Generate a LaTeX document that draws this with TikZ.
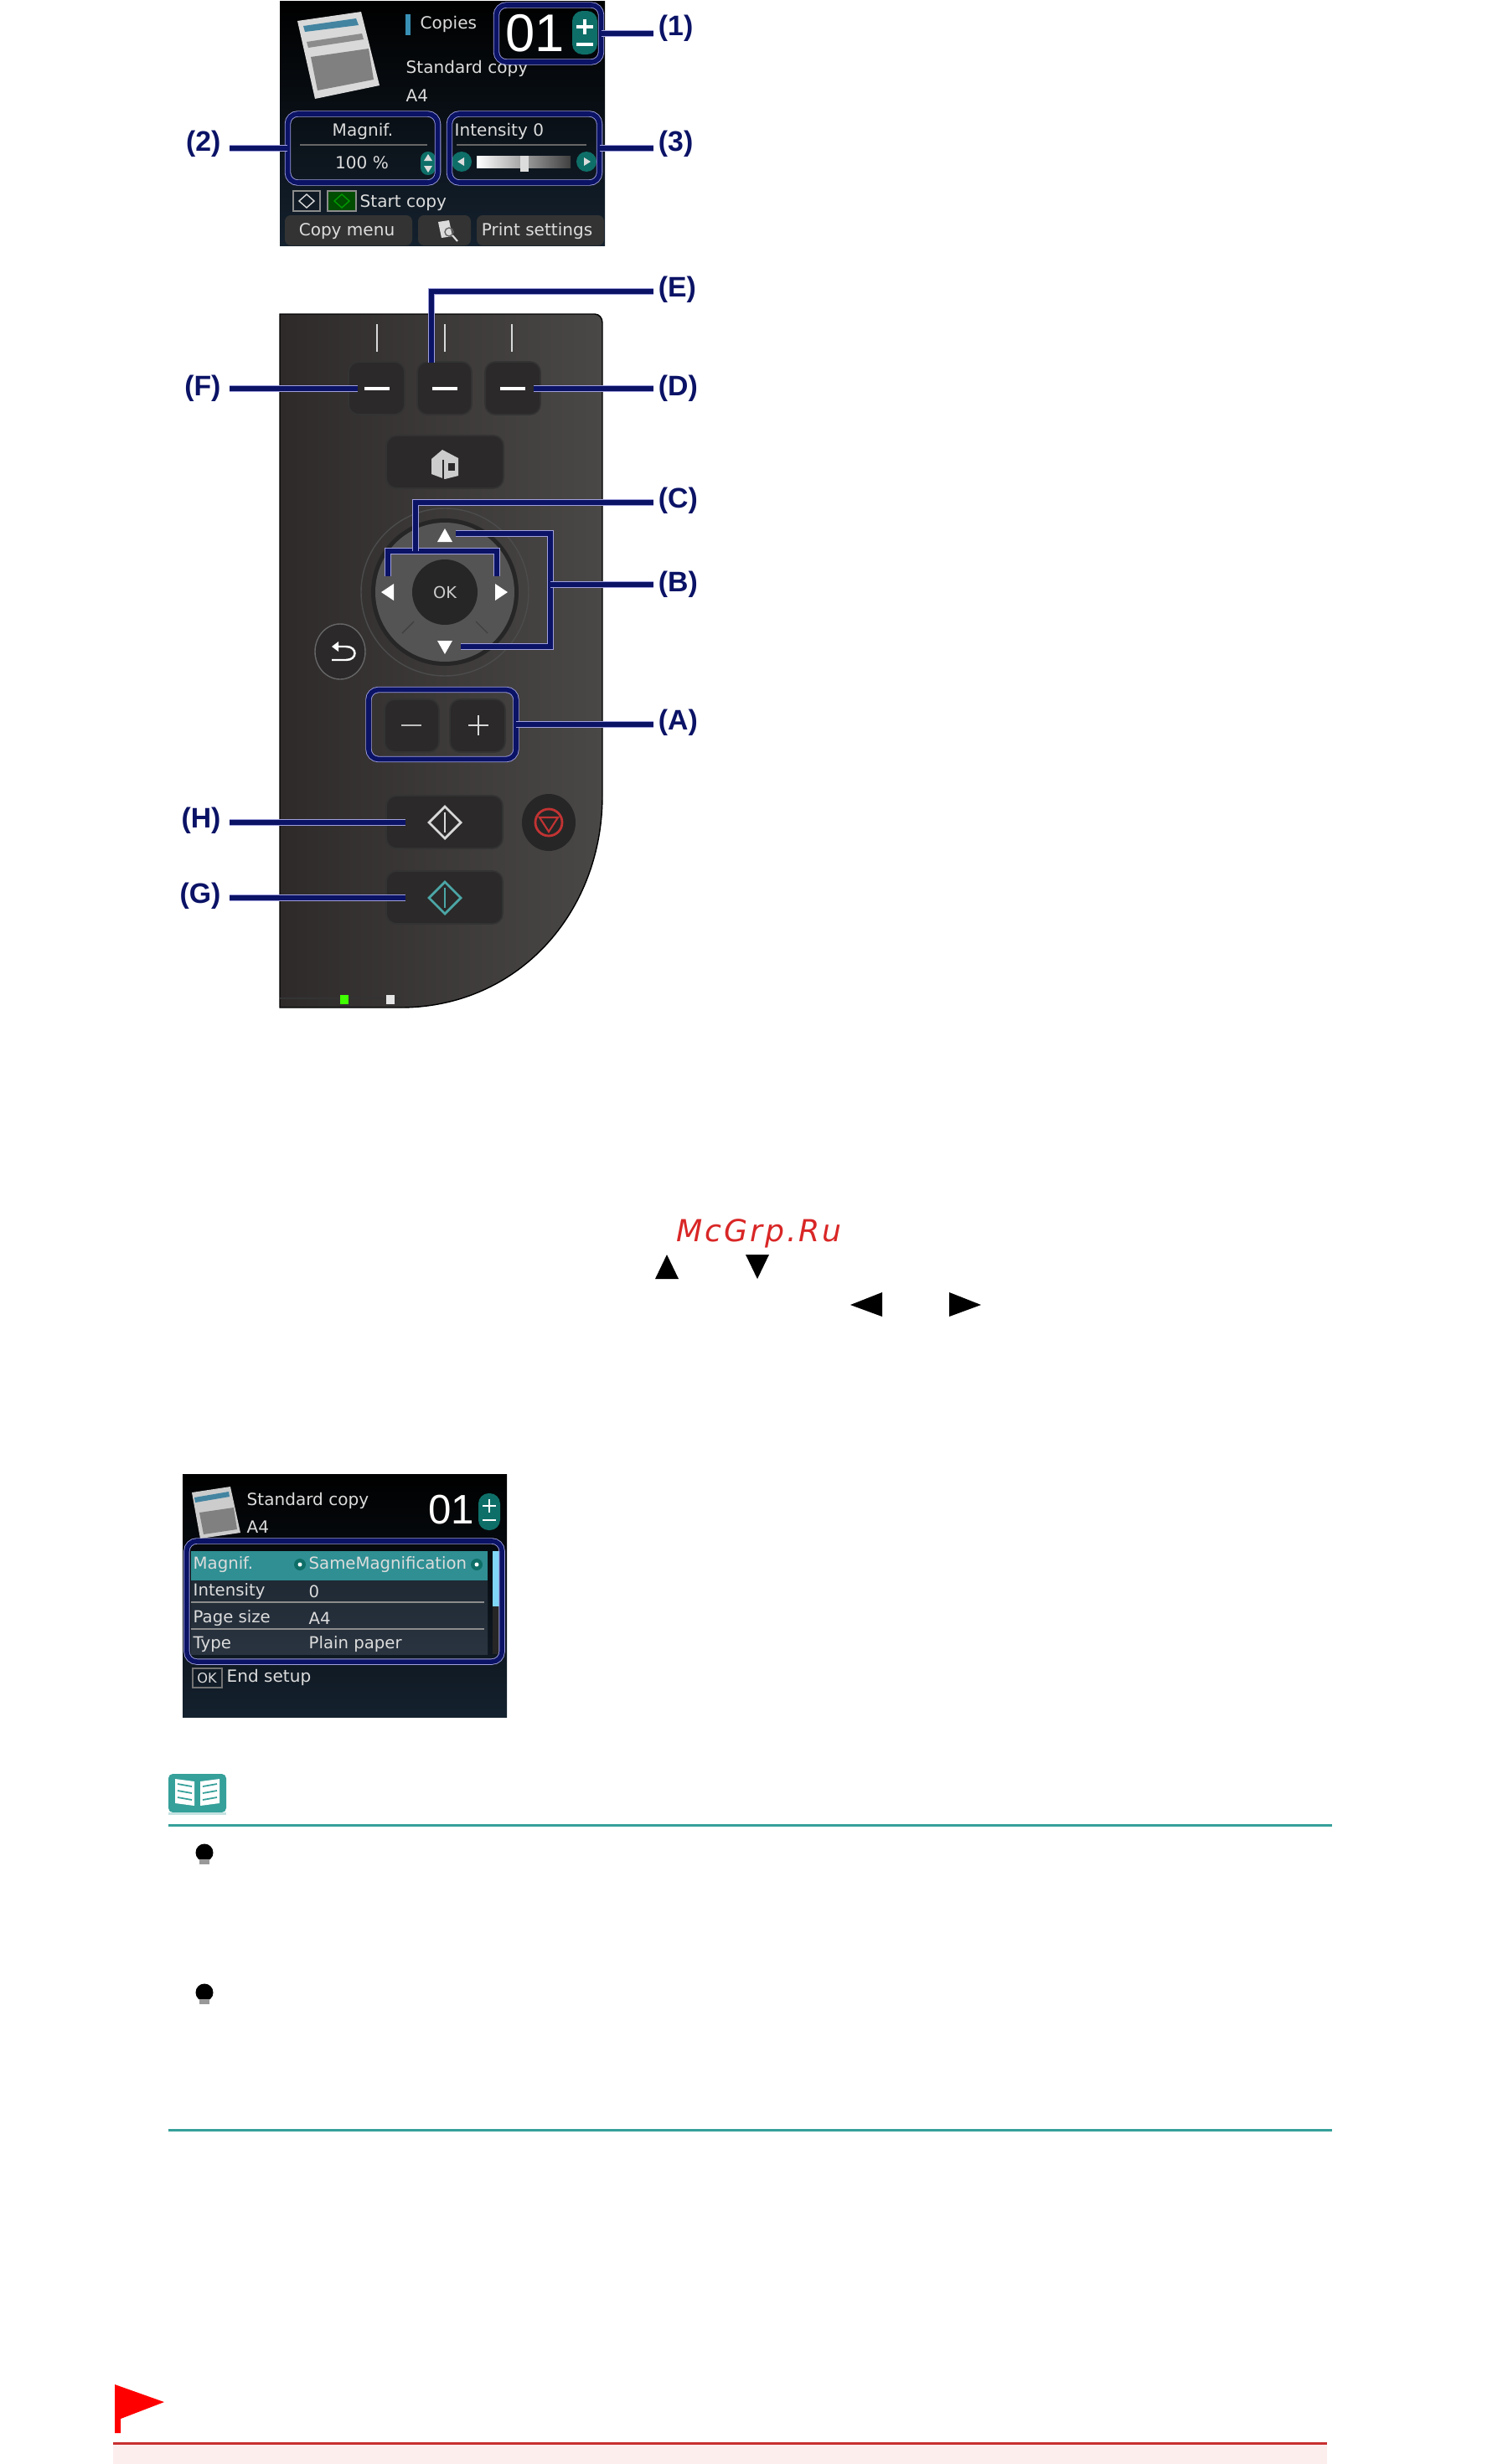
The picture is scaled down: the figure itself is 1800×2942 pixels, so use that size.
\documentclass[tikz,border=0pt]{standalone}
\usepackage{fontspec}
\setmainfont{DejaVu Sans}
\newfontfamily\labelfont{Liberation Sans}
\newfontfamily\markfont[LetterSpace=8]{DejaVu Sans}
\usetikzlibrary{calc}
\definecolor{navyline}{HTML}{0B1366}
\definecolor{haloline}{HTML}{A0A0DC}
\definecolor{pilltea}{HTML}{0E6F68}
\definecolor{scrtxt}{HTML}{DCDCDC}
\definecolor{scrbot}{HTML}{14212E}
\definecolor{rowtop}{HTML}{1A2530}
\definecolor{rowbot}{HTML}{2A3440}
\definecolor{panelL}{HTML}{2E2A2A}
\definecolor{panelR}{HTML}{4A4847}
\definecolor{keycol}{HTML}{2B2929}
\definecolor{dialcol}{HTML}{555454}
\definecolor{notetea}{HTML}{36A09A}
\definecolor{flagline}{HTML}{C83030}
\definecolor{flagband}{HTML}{FDEEEE}
\definecolor{rowbar}{HTML}{2F8F93}
\definecolor{markred}{HTML}{D92626}
\tikzset{
  conn/.style={draw=haloline,line width=0.25pt,double=navyline,double distance=1.6pt},
  hbox/.style={draw=haloline,line width=0.25pt,double=navyline,double distance=1.6pt,
    rounded corners=3.4pt,inner sep=0pt,outer sep=0pt},
  numright/.style={text=navyline,font=\labelfont\bfseries\fontsize{9.6pt}{11pt}\selectfont,
    anchor=west,inner xsep=1.7pt,inner ysep=0pt,outer sep=0pt},
  numleft/.style={text=navyline,font=\labelfont\bfseries\fontsize{9.6pt}{11pt}\selectfont,
    anchor=east,inner xsep=3pt,inner ysep=0pt,outer sep=0pt},
  scrtext/.style={text=scrtxt,font=\fontsize{5.7pt}{7pt}\selectfont,inner sep=0pt},
  rowtext/.style={text=scrtxt,font=\fontsize{5.6pt}{7pt}\selectfont,inner sep=0pt,anchor=west},
  keybtn/.style={fill=keycol,draw=black!80,line width=0.5pt,rounded corners=3.5pt}
}
\begin{document}
\begin{tikzpicture}[x=0.01cm,y=-0.01cm]
\fill[white] (0,0) rectangle (1800,2942);
\useasboundingbox (0,0) rectangle (1800,2942);

\shade[top color=black,bottom color=scrbot] (334,2) rectangle (722,293);
\fill[black!15] (355,25) -- (431,14) -- (453,102) -- (376,118) -- cycle;
\fill[cyan!60!black] (362,31) -- (425,22) -- (428,30) -- (364,38) -- cycle;
\fill[black!45] (366,50) -- (432,40) -- (434,47) -- (368,57) -- cycle;
\fill[black!50] (371,68) -- (440,58) -- (446,95) -- (379,108) -- cycle;
\fill[cyan!70!black] (484,17) rectangle (490,42);
\node[scrtext,anchor=west] (Copies) at (501,29) {Copies};
\node[scrtext,anchor=west] (Standard_1) at (484,82) {Standard copy};
\node[scrtext,anchor=west] (Size_1) at (484,114) {A4};
\node[text=white,font=\labelfont\fontsize{18pt}{20pt}\selectfont,inner sep=0pt] (Count_1) at (639,40) {01};
\fill[pilltea,rounded corners=3.5pt] (683,13) rectangle (713,65);
\draw[white,line width=1pt] (688,32) -- (708,32) (698,23) -- (698,41);
\draw[white,line width=1pt] (688,53) -- (708,53);

\node[scrtext] (Magnif_1) at (433,157) {Magnif.};
\draw[black!60,line width=0.3pt] (358,173) -- (510,173);
\node[scrtext] (Percent_1) at (432,194) {100 \%};
\fill[pilltea,rounded corners=2.5pt] (502,181) rectangle (520,209);
\fill[scrtxt] (511,184) -- (516,192) -- (506,192) -- cycle;
\fill[scrtxt] (511,206) -- (516,198) -- (506,198) -- cycle;
\node[scrtext,anchor=west] (Intensity_1) at (542,157) {Intensity 0};
\draw[black!60,line width=0.3pt] (545,173) -- (700,173);
\shade[left color=white,right color=black!75] (569,186) rectangle (681,200);
\fill[scrtxt] (621,205) rectangle (631,186);
\fill[pilltea] (551,193) circle (12);
\fill[pilltea] (700,193) circle (12);
\fill[scrtxt] (546,193) -- (554,188) -- (554,198) -- cycle;
\fill[scrtxt] (705,193) -- (697,188) -- (697,198) -- cycle;

\draw[black!45,line width=0.5pt] (350,228) rectangle (382,252);
\fill[black!70!green,draw=black!45,line width=0.5pt] (391,228) rectangle (425,252);
\draw[scrtxt,line width=0.4pt] (366,232) -- (375,240) -- (366,248) -- (357,240) -- cycle;
\draw[green!60!black,line width=0.4pt] (408,232) -- (417,240) -- (408,248) -- (399,240) -- cycle;
\node[scrtext,anchor=west] (Start_1) at (429,242) {Start copy};

\fill[black!80,rounded corners=2pt] (340,293) -- (340,257) -- (492,257) -- (492,293) -- cycle;
\fill[black!80,rounded corners=2pt] (499,293) -- (499,257) -- (562,257) -- (562,293) -- cycle;
\fill[black!80,rounded corners=2pt] (569,293) -- (569,257) -- (721,257) -- (721,293) -- cycle;
\node[scrtext] (Menu_1) at (414,276) {Copy menu};
\node[scrtext] (Print_1) at (641,276) {Print settings};
\fill[scrtxt] (523,265) -- (536,263) -- (540,282) -- (527,284) -- cycle;
\draw[black!60,line width=0.4pt] (536,277) circle (5);
\draw[scrtxt,line width=0.6pt] (540,281) -- (546,288);

\node[hbox,minimum width=1.25cm,minimum height=0.68cm] (Box_1) at (655,40) {};
\node[hbox,minimum width=1.79cm,minimum height=0.82cm] (Box_2) at (433,177) {};
\node[hbox,minimum width=1.79cm,minimum height=0.82cm] (Box_3) at (626,177) {};
\node[numright] (Label_1) at (780,34) {(1)};
\node[numleft] (Label_2) at (274,172) {(2)};
\node[numright] (Label_3) at (780,172) {(3)};
\draw[conn] (Box_1.east) -- (Box_1.east -| Label_1.west);
\draw[conn] (Box_2.west) -- (Box_2.west -| Label_2.east);
\draw[conn] (Box_3.east) -- (Box_3.east -| Label_3.west);

\begin{scope}[xshift=-0.02cm]
\shade[left color=panelL,right color=panelR,draw=black,line width=0.4pt]
  (336,375) -- (712,375) to[out=0,in=90] (721,385) -- (721,950)
  .. controls (721,1090) and (620,1203) .. (480,1203) -- (336,1203) -- cycle;
\draw[black!80,line width=0.5pt] (336,1192) -- (480,1192);

\draw[black!15,line width=0.8pt] (452,387) -- (452,420);
\draw[black!15,line width=0.8pt] (533,387) -- (533,420);
\draw[black!15,line width=0.8pt] (613,387) -- (613,420);
\draw[keybtn] (418,432) rectangle (485,495);
\draw[keybtn] (500,432) rectangle (565,495);
\draw[keybtn] (581,432) rectangle (647,495);
\draw[white,line width=1.3pt] (437,464) -- (467,464);
\draw[white,line width=1.3pt] (518,464) -- (548,464);
\draw[white,line width=1.3pt] (599,464) -- (629,464);

\draw[keybtn] (463,520) rectangle (603,583);
\fill[black!20] (517,566) -- (517,548) -- (530,537) -- (549,547) -- (549,568) -- (533,572) -- cycle;
\fill[keycol] (537,553) rectangle (545,562);
\draw[keycol,line width=0.4pt] (531,549) -- (531,572);

\draw[black!70,line width=0.4pt] (533,707) circle (100);
\fill[black!85] (533,707) circle (88);
\fill[dialcol] (533,707) circle (83);
\draw[black!75,line width=0.4pt] (482,756) -- (496,742) (584,756) -- (570,742);
\fill[black!85] (533,707) circle (39);
\node[text=black!20,font=\fontsize{5.5pt}{7pt}\selectfont,inner sep=0pt] (Ok_key) at (533,707) {OK};
\fill[white] (533,631) -- (542,647) -- (524,647) -- cycle;
\fill[white] (533,781) -- (542,765) -- (524,765) -- cycle;
\fill[white] (457,707) -- (472,697) -- (472,717) -- cycle;
\fill[white] (608,707) -- (593,697) -- (593,717) -- cycle;

\fill[keycol,draw=black!60,line width=0.4pt] (408,778) ellipse (30 and 33);
\draw[white,line width=0.7pt] (403,772) -- (415,772) .. controls (429,772) and (429,788) .. (415,788) -- (398,788);
\fill[white] (398,772) -- (406,766) -- (406,778) -- cycle;

\draw[keybtn] (461,835) rectangle (526,898);
\draw[keybtn] (539,835) rectangle (605,898);
\draw[black!25,line width=0.8pt] (481,866) -- (505,866);
\draw[black!15,line width=0.8pt] (561,866) -- (585,866) (573,854) -- (573,878);

\draw[keybtn] (463,950) rectangle (602,1013);
\draw[black!15,line width=0.8pt] (533,963) -- (552,982) -- (533,1001) -- (514,982) -- cycle;
\draw[black!15,line width=0.6pt] (533,970) -- (533,994);
\draw[keybtn] (463,1040) rectangle (602,1103);
\draw[teal!70!white,line width=0.8pt] (533,1053) -- (552,1072) -- (533,1091) -- (514,1072) -- cycle;
\draw[teal!70!white,line width=0.6pt] (533,1060) -- (533,1084);
\fill[black!85] (657,982) ellipse (32 and 34);
\draw[red!70!black!80!white,line width=0.8pt] (657,982) circle (16);
\draw[red!70!black!80!white,line width=0.6pt] (646,976) -- (668,976) -- (657,993) -- cycle;

\fill[green!75!yellow] (408,1188) rectangle (418,1199);
\fill[black!10] (463,1188) rectangle (473,1199);

\node[hbox,minimum width=1.76cm,minimum height=0.83cm] (Box_A) at (530,865) {};
\node[numright] (Label_E) at (782,346) {(E)};
\node[numright] (Label_D) at (782,464) {(D)};
\node[numright] (Label_C) at (782,598) {(C)};
\node[numright] (Label_B) at (782,698) {(B)};
\node[numright] (Label_A) at (782,863) {(A)};
\node[numleft] (Label_F) at (276,464) {(F)};
\node[numleft] (Label_H) at (276,980) {(H)};
\node[numleft] (Label_G) at (276,1070) {(G)};
\coordinate (End_F) at (429,464);
\coordinate (End_D) at (639,464);
\coordinate (End_E) at (517,433);
\coordinate (End_H) at (486,982);
\coordinate (End_G) at (486,1072);
\coordinate (Elbow_E) at (517,348);
\coordinate (Elbow_C) at (498,600);
\coordinate (Join_C) at (498,658);
\coordinate (Left_C1) at (465,688);
\coordinate (Left_C2) at (465,658);
\coordinate (Right_C1) at (595,688);
\coordinate (Right_C2) at (595,658);
\coordinate (Up_B) at (546,637);
\coordinate (Down_B) at (552,772);
\coordinate (Mid_B) at (659,698);
\draw[conn] (Label_F.east |- End_F) -- (End_F);
\draw[conn] (End_D) -- (End_D -| Label_D.west);
\draw[conn] (End_E) -- (Elbow_E) -- (Elbow_E -| Label_E.west);
\draw[conn] (Left_C1) -- (Left_C2) -- (Right_C2) -- (Right_C1);
\draw[conn] (Join_C) -- (Elbow_C) -- (Elbow_C -| Label_C.west);
\draw[conn] (Up_B) -- (Up_B -| Mid_B) -- (Down_B -| Mid_B) -- (Down_B);
\draw[conn] (Mid_B) -- (Mid_B -| Label_B.west);
\draw[conn] (Box_A.east) -- (Box_A.east -| Label_A.west);
\draw[conn] (Label_H.east |- End_H) -- (End_H);
\draw[conn] (Label_G.east |- End_G) -- (End_G);
\end{scope}

\node[text=markred,font=\markfont\itshape\fontsize{10.3pt}{12pt}\selectfont,inner sep=0pt] (Mark) at (906,1473) {McGrp.Ru};
\fill[black] (796,1498) -- (810,1527) -- (782,1527) -- cycle;
\fill[black] (904,1527) -- (918,1498) -- (890,1498) -- cycle;
\fill[black] (1015,1558) -- (1053,1543) -- (1053,1572) -- cycle;
\fill[black] (1171,1558) -- (1133,1543) -- (1133,1572) -- cycle;

\shade[top color=black,bottom color=scrbot] (218,1760) rectangle (605,2050);
\fill[black!20] (229,1782) -- (275,1775) -- (287,1830) -- (239,1837) -- cycle;
\fill[cyan!60!black] (232,1788) -- (273,1781) -- (274,1787) -- (233,1794) -- cycle;
\fill[black!50] (238,1806) -- (279,1800) -- (283,1826) -- (243,1832) -- cycle;
\node[scrtext,anchor=west] (Standard_2) at (294,1792) {Standard copy};
\node[scrtext,anchor=west] (Size_2) at (294,1823) {A4};
\node[text=white,font=\labelfont\fontsize{14pt}{16pt}\selectfont,inner sep=0pt] (Count_2) at (539,1803) {01};
\fill[pilltea,rounded corners=3.5pt] (571,1783) rectangle (597,1827);
\draw[white,line width=0.8pt] (576,1798) -- (592,1798) (584,1790) -- (584,1806);
\draw[white,line width=0.8pt] (576,1815) -- (592,1815);

\shade[top color=rowtop,bottom color=rowbot] (228,1852) rectangle (582,1975);
\fill[rowbar] (228,1852) rectangle (582,1887);
\draw[black!45,line width=0.4pt] (228,1913) -- (578,1913);
\draw[black!45,line width=0.4pt] (228,1945) -- (578,1945);
\fill[black!85] (588,1852) rectangle (596,1975);
\fill[cyan!50!white] (588,1852) rectangle (596,1918);
\node[rowtext] (Row_1a) at (230,1868) {Magnif.};
\node[rowtext] (Row_1b) at (368,1868) {SameMagnification};
\fill[pilltea] (358,1868) circle (7);
\fill[pilltea] (569,1868) circle (7);
\fill[white] (358,1868) circle (2.5);
\fill[white] (569,1868) circle (2.5);
\node[rowtext] (Row_2a) at (230,1900) {Intensity};
\node[rowtext] (Row_2b) at (368,1900) {0};
\node[rowtext] (Row_3a) at (230,1932) {Page size};
\node[rowtext] (Row_3b) at (368,1932) {A4};
\node[rowtext] (Row_4a) at (230,1963) {Type};
\node[rowtext] (Row_4b) at (368,1963) {Plain paper};
\node[hbox,minimum width=3.76cm,minimum height=1.44cm] (Box_M) at (411,1912) {};
\draw[black!55,line width=0.5pt] (230,1992) rectangle (265,2015);
\node[scrtext,font=\fontsize{4.6pt}{6pt}\selectfont] (Ok_2) at (247,2004) {OK};
\node[scrtext,anchor=west] (End_setup) at (270,2003) {End setup};

\fill[notetea,rounded corners=1.5pt] (201,2118) rectangle (270,2164);
\fill[notetea!30!white] (201,2164) rectangle (270,2167);
\fill[white] (209,2124) -- (232,2127) -- (232,2156) -- (209,2153) -- cycle;
\fill[white] (262,2124) -- (239,2127) -- (239,2156) -- (262,2153) -- cycle;
\draw[notetea,line width=0.5pt] (212,2130) -- (229,2133) (212,2138) -- (229,2141) (212,2146) -- (229,2149);
\draw[notetea,line width=0.5pt] (259,2130) -- (242,2133) (259,2138) -- (242,2141) (259,2146) -- (242,2149);
\fill[notetea] (201,2177.5) rectangle (1590,2180.5);
\fill[black] (244,2212) circle (10.5);
\fill[black!40] (238,2220) rectangle (250,2226);
\fill[black] (244,2379) circle (10.5);
\fill[black!40] (238,2387) rectangle (250,2393);
\fill[notetea] (201,2541.5) rectangle (1590,2544.5);

\fill[red] (137,2847) -- (196,2868) -- (144,2888) -- (144,2905) -- (137,2905) -- cycle;
\fill[flagband] (135,2917) rectangle (1584,2942);
\fill[flagline] (135,2916) rectangle (1584,2919);
\end{tikzpicture}
\end{document}
